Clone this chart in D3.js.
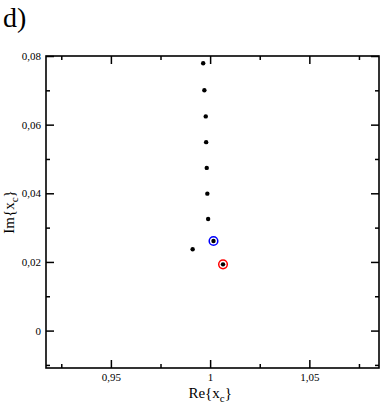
<!DOCTYPE html>
<html>
<head>
<meta charset="utf-8">
<script src="https://cdn.jsdelivr.net/npm/d3@7"></script>
<style>
  body { margin: 0; background: #fff; }
  text { font-family: "Liberation Serif", "DejaVu Serif", serif; fill: #000; }
</style>
</head>
<body>
<div class="chart"></div>
<script>
const width = 382;
const height = 404;
const margin = { top: 56, right: 3, bottom: 36, left: 46 };

// complex roots x_c : real and imaginary parts
const reVals = [0.9965, 0.9971, 0.9978, 0.9980, 0.9983, 0.9986, 0.9990, 1.0017, 0.9912, 1.0065];
const imVals = [0.0779, 0.0700, 0.0624, 0.0549, 0.0474, 0.0399, 0.0325, 0.0261, 0.0237, 0.0193];
// marked roots
const ringIndex = [7, 9];
const ringColor = ['#0000ff', '#ff0000'];

const xMajor = [0.95, 1, 1.05];
const xMinor = [0.925, 0.975, 1.025, 1.075];
const yMajor = [0, 0.02, 0.04, 0.06, 0.08];
const yMinor = [-0.01, 0.01, 0.03, 0.05, 0.07];
const xDomain = [0.9173, 1.0851];
const yDomain = [-0.0109, 0.08];

const fmt = d => String(d).replace('.', ',');

const svg = d3.select('.chart').append('svg')
    .attr('width', width)
    .attr('height', height);

const w = width - margin.left - margin.right;
const h = height - margin.top - margin.bottom;

const x = d3.scaleLinear().domain(xDomain).range([margin.left, margin.left + w]);
const y = d3.scaleLinear().domain(yDomain).range([margin.top + h, margin.top]);

/*      axes with inward ticks on all four sides      */
function addAxis(axisFn, scale, ticks, size, transform, labels, pad) {
    const g = svg.append('g')
        .attr('transform', transform)
        .call(axisFn(scale).tickValues(ticks).tickSize(-size).tickSizeOuter(0)
            .tickPadding(pad || 3)
            .tickFormat(labels ? fmt : ''));
    g.attr('font-family', null).attr('font-size', null);
    g.select('.domain').remove();
    g.selectAll('line').attr('stroke', '#000').attr('stroke-width', 1.5);
    g.selectAll('text')
        .style('font-family', '"Liberation Serif", serif')
        .style('font-size', '11px');
    return g;
}
const bottomY = margin.top + h;
const rightX = margin.left + w;
addAxis(d3.axisBottom, x, xMajor, 8, `translate(0,${bottomY})`, true, 5);
addAxis(d3.axisBottom, x, xMinor, 4, `translate(0,${bottomY})`, false);
addAxis(d3.axisTop, x, xMajor, 8, `translate(0,${margin.top})`, false);
addAxis(d3.axisTop, x, xMinor, 4, `translate(0,${margin.top})`, false);
addAxis(d3.axisLeft, y, yMajor, 8, `translate(${margin.left},0)`, true, 5);
addAxis(d3.axisLeft, y, yMinor, 4, `translate(${margin.left},0)`, false);
addAxis(d3.axisRight, y, yMajor, 8, `translate(${rightX},0)`, false);
addAxis(d3.axisRight, y, yMinor, 4, `translate(${rightX},0)`, false);

// frame
svg.append('rect')
    .attr('x', margin.left)
    .attr('y', margin.top)
    .attr('width', w)
    .attr('height', h)
    .attr('fill', 'none')
    .attr('stroke', '#000')
    .attr('stroke-width', 1.6);

/*      rings around marked roots      */
svg.append('g').selectAll('circle')
    .data(ringIndex)
    .enter()
    .append('circle')
    .attr('cx', d => x(reVals[d]))
    .attr('cy', d => y(imVals[d]))
    .attr('r', 4.3)
    .attr('fill', 'none')
    .attr('stroke', (d, i) => ringColor[i])
    .attr('stroke-width', 1.5);

/*      root dots      */
svg.append('g').selectAll('circle')
    .data(reVals)
    .enter()
    .append('circle')
    .attr('cx', d => x(d))
    .attr('cy', (d, i) => y(imVals[i]))
    .attr('r', 2.2)
    .attr('fill', '#000');

/*      axis titles      */
const xt = svg.append('text')
    .attr('x', x(1))
    .attr('y', 398)
    .attr('text-anchor', 'middle')
    .attr('font-size', 15);
xt.append('tspan').text('Re{x');
xt.append('tspan').attr('font-size', 11).attr('dy', 4).text('c');
xt.append('tspan').attr('dy', -4).text('}');

const yt = svg.append('text')
    .attr('transform', `translate(14,${(margin.top + bottomY) / 2}) rotate(-90)`)
    .attr('text-anchor', 'middle')
    .attr('font-size', 15);
yt.append('tspan').text('Im{x');
yt.append('tspan').attr('font-size', 11).attr('dy', 4).text('c');
yt.append('tspan').attr('dy', -4).text('}');

// panel label
svg.append('text')
    .attr('x', 3)
    .attr('y', 27)
    .attr('font-size', 28)
    .text('d)');
</script>
</body>
</html>
